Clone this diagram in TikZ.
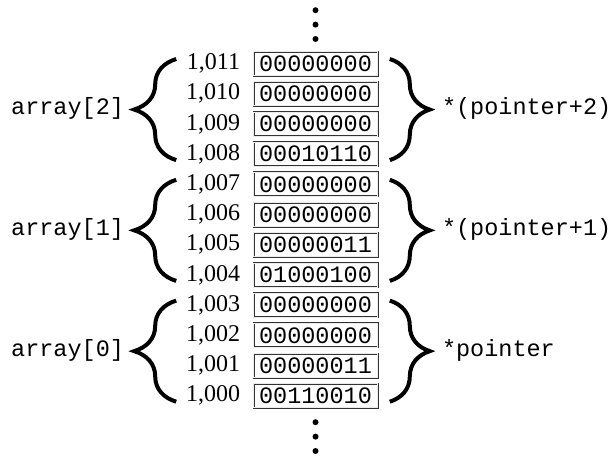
\documentclass[tikz,border=0pt]{standalone}
\usepackage{fontspec}
\setmainfont{Liberation Serif}
\setmonofont{Liberation Mono}
\usetikzlibrary{positioning,calc,decorations.pathreplacing}
\tikzset{
cell/.style={draw=black!80,double=black!8,double distance=0.8pt,line width=0.6pt,
minimum width=124pt,minimum height=24pt,inner sep=0pt,font=\fontsize{23.5}{24}\ttfamily},
addr/.style={font=\fontsize{24}{24}\selectfont,inner sep=0pt},
varname/.style={font=\fontsize{23.5}{24}\ttfamily,inner sep=0pt},
bracel/.style={decorate,decoration={brace,amplitude=42pt},line width=4pt},
bracer/.style={decorate,decoration={brace,amplitude=40pt},line width=4pt},
dotnode/.style={circle,fill=black,inner sep=0pt,minimum size=6pt}
}
\begin{document}
\begin{tikzpicture}[x=1pt,y=-1pt]
\useasboundingbox (0,0) rectangle (615,456);
% memory cells, highest address on top
\foreach \a/\v [count=\i from 0] in {011/00000000,010/00000000,009/00000000,008/00010110,
  007/00000000,006/00000000,005/00000011,004/01000100,
  003/00000000,002/00000000,001/00000011,000/00110010}{
  \node[cell] (m\a) at (315.5,63.5+30.2*\i) {\v};
  \node[addr,left=13pt of m\a] (a\a) {1,\a};
}
% dots above and below
\node[dotnode,above=9pt of m011] (t1) {};
\node[dotnode,above=8pt of t1] (t2) {};
\node[dotnode,above=8pt of t2] (t3) {};
\node[dotnode,below=11pt of m000] (b1) {};
\node[dotnode,below=8pt of b1] (b2) {};
\node[dotnode,below=8pt of b2] (b3) {};
% braces and names
\foreach \lo/\hi/\n/\p in {008/011/2/{*(pointer+2)},004/007/1/{*(pointer+1)},000/003/0/{*pointer}}{
  \coordinate (lb\n) at ([shift={(-77pt,-6pt)}]m\lo.west);
  \coordinate (lt\n) at ([shift={(-77pt,4.5pt)}]m\hi.west);
  \coordinate (rt\n) at ([shift={(12pt,4.5pt)}]m\hi.east);
  \coordinate (rb\n) at ([shift={(12pt,-6pt)}]m\lo.east);
  \draw[bracel] (lb\n) -- (lt\n);
  \draw[bracer] (rt\n) -- (rb\n);
  \node[varname,anchor=east] (arr\n) at ($(m\lo.west)!0.5!(m\hi.west)+(-129pt,0pt)$) {array[\n]};
  \node[varname,anchor=west] (ptr\n) at ($(m\lo.east)!0.5!(m\hi.east)+(64pt,0pt)$) {\p};
}
\end{tikzpicture}
\end{document}
